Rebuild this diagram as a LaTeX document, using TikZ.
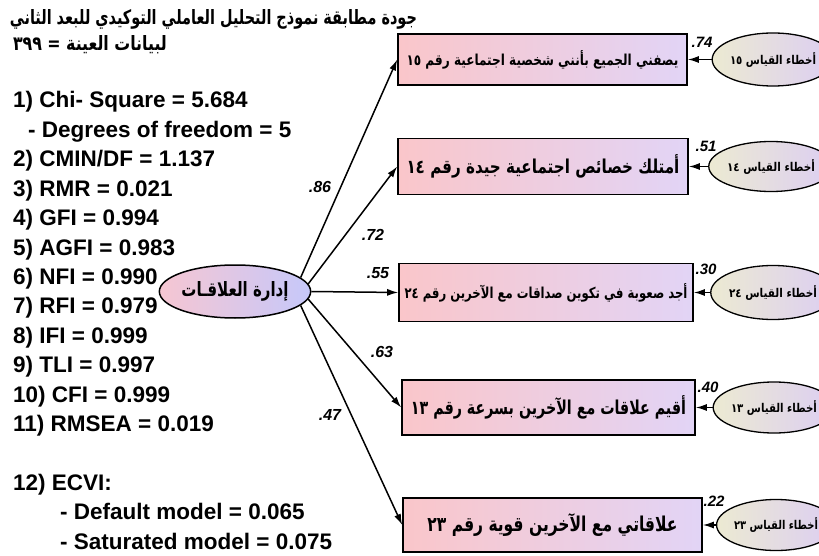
\documentclass[tikz,border=0pt]{standalone}
\usepackage{fontspec}
\usepackage{graphicx}
\setmainfont{Liberation Sans}
\newfontfamily\arabicfont[Script=Arabic]{DejaVu Sans}
\TeXXeTstate=1
\usetikzlibrary{arrows.meta,shapes.geometric}
\newcommand{\artext}[3]{\resizebox{#1}{#2}{\arabicfont\bfseries #3}}
\definecolor{boxL}{HTML}{FAC6CA}
\definecolor{boxR}{HTML}{E2D4F6}
\definecolor{relL}{HTML}{F6C6D2}
\definecolor{relR}{HTML}{C6C8FA}
\definecolor{errL}{HTML}{ECEAD2}
\definecolor{errR}{HTML}{DCCEF2}
\tikzset{
  itembox/.style={rectangle, draw, line width=1.6pt, left color=boxL, right color=boxR, inner sep=0pt},
  errell/.style={ellipse, draw, line width=1.3pt, left color=errL, right color=errR, inner sep=0pt},
  latell/.style={ellipse, draw, line width=1.5pt, left color=relL, right color=relR, inner sep=0pt},
  patharrow/.style={line width=1.5pt, -{Latex[length=11pt,width=7pt]}},
  loadlabel/.style={font=\fontsize{16}{16}\selectfont\bfseries\itshape, inner sep=0pt},
  errlabel/.style={font=\fontsize{15}{15}\selectfont\bfseries\itshape, inner sep=0pt},
  statline/.style={anchor=base west, inner sep=0pt, font=\fontsize{22.5}{22.5}\selectfont\bfseries}
}
\begin{document}
\begin{tikzpicture}[x=1pt,y=-1pt]
\useasboundingbox (0,0) rectangle (819,556);

% title
\node[inner sep=0pt] (t1) at (213.5,19) {\artext{407pt}{15pt}{\beginR جودة مطابقة نموذج التحليل العاملي التوكيدي للبعد الثاني\endR}};
\node[inner sep=0pt] (t2) at (90,45) {\artext{154pt}{15pt}{\beginR لبيانات العينة = \beginL٣٩٩\endL\endR}};

% statistics
\node[statline] (s1) at (13,108) {1) Chi- Square = 5.684};
\node[statline] (s1b) at (28,137.4) {- Degrees of freedom = 5};
\node[statline] (s2) at (13,166.8) {2) CMIN/DF = 1.137};
\node[statline] (s3) at (13,196.2) {3) RMR = 0.021};
\node[statline] (s4) at (13,225.6) {4) GFI = 0.994};
\node[statline] (s5) at (13,255) {5) AGFI = 0.983};
\node[statline] (s6) at (13,284.4) {6) NFI = 0.990};
\node[statline] (s7) at (13,313.8) {7) RFI = 0.979};
\node[statline] (s8) at (13,343.2) {8) IFI = 0.999};
\node[statline] (s9) at (13,372.6) {9) TLI = 0.997};
\node[statline] (s10) at (13,402) {10) CFI = 0.999};
\node[statline] (s11) at (13,431.4) {11) RMSEA = 0.019};
\node[statline] (s12) at (13,490.2) {12) ECVI:};
\node[statline] (s13) at (60,519.6) {- Default model = 0.065};
\node[statline] (s14) at (60,549) {- Saturated model = 0.075};

% latent variable
\node[latell, minimum width=144pt, minimum height=53pt] (rel) at (235,291.5) {\artext{107pt}{15pt}{\beginR إدارة العلاقـات\endR}};

% observed items
\node[itembox, minimum width=289pt, minimum height=51pt] (b1) at (542.5,59.5) {\artext{272pt}{15pt}{\beginR يصفني الجميع بأنني شخصية اجتماعية رقم \beginL١٥\endL\endR}};
\node[itembox, minimum width=290pt, minimum height=56pt] (b2) at (543,166.5) {\artext{273pt}{19pt}{\beginR أمتلك خصائص اجتماعية جيدة رقم \beginL١٤\endL\endR}};
\node[itembox, minimum width=294pt, minimum height=58pt] (b3) at (546,292.5) {\artext{283pt}{15pt}{\beginR أجد صعوبة في تكوين صداقات مع الآخرين رقم \beginL٢٤\endL\endR}};
\node[itembox, minimum width=293pt, minimum height=55pt] (b4) at (548.5,407.5) {\artext{275pt}{19pt}{\beginR أقيم علاقات مع الآخرين بسرعة رقم \beginL١٣\endL\endR}};
\node[itembox, minimum width=299pt, minimum height=54pt] (b5) at (552.5,525) {\artext{250pt}{18pt}{\beginR علاقاتي مع الآخرين قوية رقم \beginL٢٣\endL\endR}};

% error terms
\node[errell, minimum width=106pt, minimum height=53pt] (e1) at (773,59.5) {\artext{86pt}{12pt}{\beginR أخطاء القياس \beginL١٥\endL\endR}};
\node[errell, minimum width=106pt, minimum height=50pt] (e2) at (771,166.5) {\artext{88pt}{12pt}{\beginR أخطاء القياس \beginL١٤\endL\endR}};
\node[errell, minimum width=106pt, minimum height=54pt] (e3) at (773,292.5) {\artext{88pt}{12pt}{\beginR أخطاء القياس \beginL٢٤\endL\endR}};
\node[errell, minimum width=102pt, minimum height=51pt] (e4) at (774,407.5) {\artext{86pt}{12pt}{\beginR أخطاء القياس \beginL١٣\endL\endR}};
\node[errell, minimum width=98pt, minimum height=51pt] (e5) at (776,525) {\artext{84pt}{12pt}{\beginR أخطاء القياس \beginL٢٣\endL\endR}};

% loadings
\draw[patharrow] (rel.12) -- (b1.west);
\draw[patharrow] (rel.6) -- (b2.west);
\draw[patharrow] (rel.east) -- (b3.west);
\draw[patharrow] (rel.-6) -- (b4.west);
\draw[patharrow] (rel.-12) -- (b5.west);

\node[loadlabel] (l1) at (320,187) {.86};
\node[loadlabel] (l2) at (373,235) {.72};
\node[loadlabel] (l3) at (378,273) {.55};
\node[loadlabel] (l4) at (382,352) {.63};
\node[loadlabel] (l5) at (330,415) {.47};

% error paths
\draw[patharrow] (e1) -- (b1);
\draw[patharrow] (e2) -- (b2);
\draw[patharrow] (e3) -- (b3);
\draw[patharrow] (e4) -- (b4);
\draw[patharrow] (e5) -- (b5);

\node[errlabel] (r1) at (702,42) {.74};
\node[errlabel] (r2) at (706,146) {.51};
\node[errlabel] (r3) at (706,269) {.30};
\node[errlabel] (r4) at (708,387) {.40};
\node[errlabel] (r5) at (714,501) {.22};
\end{tikzpicture}
\end{document}
